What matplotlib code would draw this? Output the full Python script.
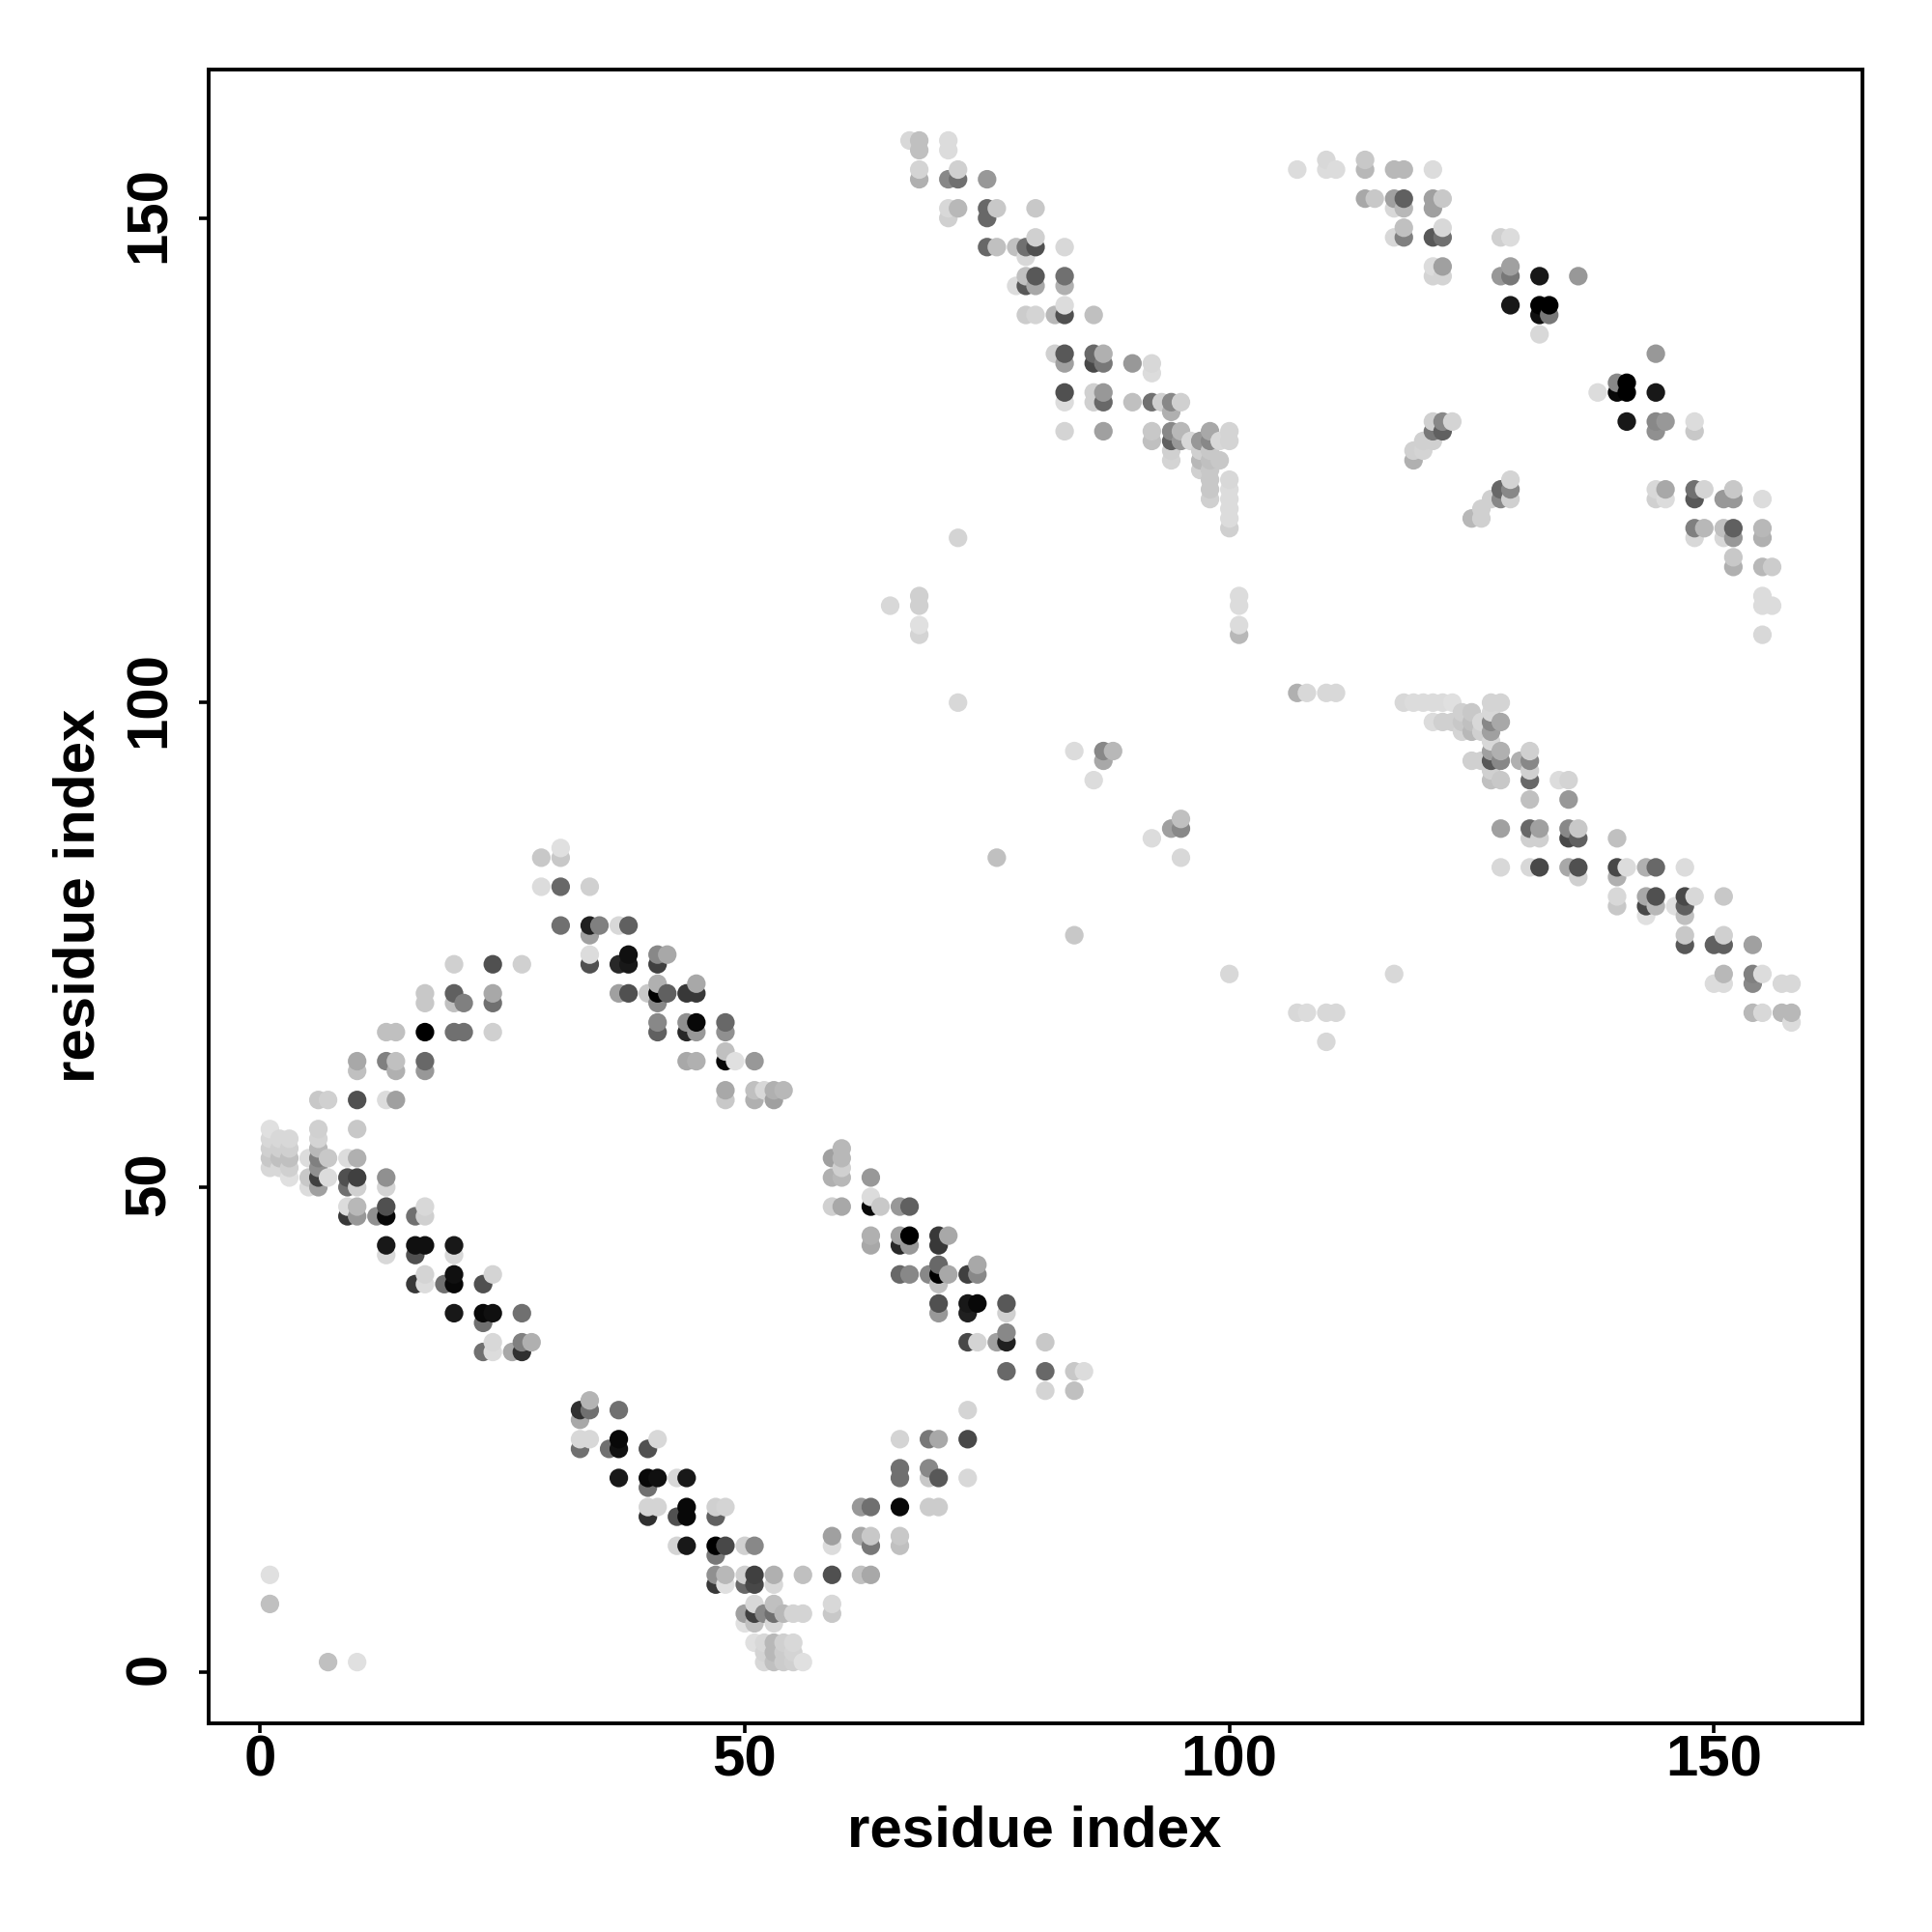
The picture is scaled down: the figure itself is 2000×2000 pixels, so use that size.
import matplotlib
matplotlib.use('Agg')
from matplotlib import pyplot as plt
from matplotlib.transforms import ScaledTranslation

# (residue i, residue j, grey level 0-255)
corner_points = [(1, 10, 0xe0), (1, 7, 0xc0), (7, 1, 0xc0), (10, 1, 0xe0)]

arm_low_left = [
    (1, 56, 0xe0), (1, 55, 0xd8), (1, 54, 0xd0), (1, 53, 0xc8), (1, 52, 0xd8),
    (2, 55, 0xd8), (2, 54, 0xd0), (2, 53, 0xc0), (2, 52, 0xd8),
    (3, 55, 0xd8), (3, 54, 0xd0), (3, 53, 0xc0), (3, 52, 0xd0), (3, 51, 0xe0),
    (5, 53, 0xdc), (5, 51, 0xc8), (5, 50, 0xdc),
    (6, 56, 0xd0), (6, 55, 0xd4), (6, 54, 0xb8), (6, 53, 0x80), (6, 52, 0x90), (6, 51, 0x40), (6, 50, 0xa0),
    (7, 53, 0xc8), (7, 51, 0xdc),
    (9, 53, 0xdc), (9, 51, 0x50), (9, 50, 0x70), (9, 48, 0xdc), (9, 47, 0x38),
    (10, 56, 0xc8), (10, 53, 0xb0), (10, 51, 0x40), (10, 50, 0xd0), (10, 48, 0xb8), (10, 47, 0x98),
    (12, 47, 0x90),
    (13, 51, 0x90), (13, 50, 0xd4), (13, 48, 0x50), (13, 47, 0x08), (13, 44, 0x18), (13, 43, 0xd8),
    (16, 47, 0x70), (16, 44, 0x10), (16, 43, 0x50), (16, 40, 0x38),
    (17, 48, 0xd8), (17, 47, 0xd0), (17, 44, 0x10), (17, 41, 0xd4), (17, 40, 0xdc),
    (19, 40, 0x70),
    (20, 44, 0x18), (20, 43, 0xd8), (20, 41, 0x10), (20, 40, 0x08), (20, 37, 0x18),
    (23, 40, 0x50), (23, 37, 0x08), (23, 36, 0x70), (23, 33, 0x70),
    (24, 41, 0xd4), (24, 37, 0x10), (24, 34, 0xd8), (24, 33, 0xdc),
    (26, 33, 0xa8),
    (27, 37, 0x70), (27, 34, 0x80), (27, 33, 0x30),
    (28, 34, 0xb0),
]

arm_low_mid = [
    (33, 27, 0x30), (33, 26, 0xa8), (33, 24, 0xd8), (33, 23, 0x70),
    (34, 28, 0xb4), (34, 27, 0x70), (34, 24, 0xd8),
    (36, 23, 0x70),
    (37, 27, 0x70), (37, 24, 0x08), (37, 23, 0x10), (37, 20, 0x18),
    (40, 23, 0x50), (40, 20, 0x08), (40, 19, 0x70), (40, 17, 0xd4), (40, 16, 0x30),
    (41, 24, 0xd8), (41, 20, 0x10), (41, 17, 0xd4),
    (43, 20, 0xd8), (43, 16, 0x50), (43, 13, 0xd4),
    (44, 20, 0x18), (44, 17, 0x08), (44, 16, 0x08), (44, 13, 0x18),
    (47, 17, 0xd0), (47, 16, 0x60), (47, 13, 0x00), (47, 12, 0x78), (47, 10, 0x90), (47, 9, 0x38),
    (48, 17, 0xd4), (48, 13, 0x48), (48, 10, 0xb8), (48, 9, 0xe0),
    (50, 13, 0xd0), (50, 10, 0xd0), (50, 9, 0x68), (50, 6, 0xa0), (50, 5, 0xe0),
    (51, 13, 0x88), (51, 10, 0x40), (51, 9, 0x48), (51, 7, 0xd8), (51, 6, 0x40), (51, 5, 0xc0), (51, 3, 0xe0),
    (52, 6, 0x88), (52, 3, 0xd8), (52, 2, 0xd4), (52, 1, 0xd8),
    (53, 10, 0xb0), (53, 9, 0xd8), (53, 7, 0xc0), (53, 6, 0x70), (53, 5, 0xd8), (53, 3, 0xb8), (53, 2, 0xb8), (53, 1, 0xc0),
    (54, 6, 0xb8), (54, 3, 0xd0), (54, 2, 0xcc), (54, 1, 0xcc),
    (55, 6, 0xd4), (55, 3, 0xd8), (55, 2, 0xd4), (55, 1, 0xd0),
    (56, 10, 0xc0), (56, 6, 0xd4), (56, 1, 0xe0),
]

arm_low_right = [
    (59, 14, 0xa0), (59, 13, 0xdc), (59, 10, 0x50), (59, 7, 0xd8), (59, 6, 0xc8),
    (62, 17, 0x98), (62, 14, 0xa8), (62, 10, 0xc0),
    (63, 17, 0x70), (63, 14, 0xc8), (63, 13, 0x78), (63, 10, 0xa8),
    (66, 24, 0xd4), (66, 21, 0x70), (66, 20, 0x70), (66, 17, 0x08), (66, 14, 0xc8), (66, 13, 0xc0),
    (69, 24, 0x78), (69, 21, 0x88), (69, 20, 0xc8), (69, 17, 0xcc),
    (70, 24, 0xa8), (70, 20, 0x58), (70, 17, 0xcc),
    (73, 27, 0xd4), (73, 24, 0x48), (73, 20, 0xd8),
]

arm_up_left = [
    (6, 59, 0xc8), (7, 59, 0xd0), (10, 63, 0xa8), (10, 62, 0xc0), (10, 59, 0x50),
    (13, 66, 0xc0), (13, 63, 0x80), (13, 59, 0xdc),
    (14, 66, 0xc0), (14, 63, 0xc0), (14, 62, 0xb0), (14, 59, 0xa0),
    (17, 70, 0xc8), (17, 69, 0xc8), (17, 66, 0x00), (17, 63, 0x68), (17, 62, 0x98),
    (20, 73, 0xd0), (20, 70, 0x60), (20, 69, 0xc0), (20, 66, 0x70),
    (21, 69, 0x80), (21, 66, 0x70),
    (24, 73, 0x50), (24, 70, 0xa8), (24, 69, 0x70), (24, 66, 0xd0),
    (27, 73, 0xd0),
]

arm_up_mid = [
    (29, 84, 0xc8), (29, 81, 0xdc), (31, 85, 0xe0), (31, 84, 0xc8), (31, 81, 0x68), (31, 77, 0x70),
    (34, 81, 0xd0), (34, 77, 0x20), (34, 76, 0xa0), (34, 74, 0xdc), (34, 73, 0x50),
    (35, 77, 0x80), (37, 77, 0xd8), (37, 73, 0x28), (37, 70, 0xa0),
    (38, 77, 0x60), (38, 74, 0x10), (38, 73, 0x18), (38, 70, 0x50),
    (40, 70, 0xc8),
    (41, 74, 0x88), (41, 73, 0x40), (41, 71, 0xb0), (41, 70, 0x00), (41, 69, 0x88), (41, 67, 0x88), (41, 66, 0x60),
    (42, 74, 0xa8), (42, 70, 0x60),
    (44, 70, 0x38), (44, 67, 0x90), (44, 66, 0x28), (44, 63, 0xa8),
    (45, 71, 0xa8), (45, 70, 0x38), (45, 67, 0x08), (45, 66, 0x98), (45, 63, 0xb0),
    (48, 67, 0x68), (48, 66, 0x90), (48, 64, 0xc0), (48, 63, 0x08), (48, 60, 0xa8), (48, 59, 0xc8),
    (49, 63, 0xe0),
    (51, 63, 0x98), (51, 60, 0xc0), (51, 59, 0xb0),
    (52, 60, 0xd8), (53, 60, 0xb0), (53, 59, 0xa0), (54, 60, 0xb8),
]

arm_mid_right = [
    (59, 53, 0xa0), (59, 51, 0xb0), (59, 48, 0xd0),
    (60, 54, 0xb8), (60, 53, 0xb8), (60, 52, 0xd0), (60, 51, 0xb8), (60, 48, 0xa8),
    (63, 51, 0x98), (63, 49, 0xdc), (63, 48, 0x08), (63, 45, 0xb0), (63, 44, 0xa8),
    (64, 48, 0xc8),
    (66, 48, 0x98), (66, 45, 0xa0), (66, 44, 0x28), (66, 41, 0x68),
    (67, 48, 0x60), (67, 45, 0x00), (67, 44, 0x98), (67, 41, 0x88),
    (69, 41, 0x88),
    (70, 45, 0x38), (70, 44, 0x38), (70, 42, 0x68), (70, 41, 0x00), (70, 40, 0xc0), (70, 38, 0x50), (70, 37, 0x98),
    (71, 45, 0xa8), (71, 41, 0xa8),
    (73, 41, 0x40), (73, 38, 0x18), (73, 37, 0x20), (73, 34, 0x48),
    (74, 42, 0xa8), (74, 41, 0x88), (74, 38, 0x08), (74, 34, 0xd4),
    (76, 34, 0xa0),
    (77, 38, 0x58), (77, 37, 0xd0), (77, 35, 0x88), (77, 34, 0x20), (77, 31, 0x68),
    (81, 34, 0xc8), (81, 31, 0x68), (81, 29, 0xd4),
    (84, 31, 0xc8), (84, 29, 0xc0), (85, 31, 0xdc),
]

strand_top_left = [
    (67, 158, 0xd8), (68, 158, 0xc0), (68, 157, 0xc0), (68, 155, 0xd4), (68, 154, 0xb0),
    (71, 158, 0xdc), (71, 157, 0xdc), (71, 154, 0x88), (71, 151, 0xd8), (71, 150, 0xd0),
    (72, 155, 0xd0), (72, 154, 0x70), (72, 151, 0xb8),
    (75, 154, 0x98), (75, 151, 0x68), (75, 150, 0x68), (75, 147, 0x68),
    (76, 151, 0xc8), (76, 147, 0xc0),
    (78, 147, 0xc0), (78, 143, 0xdc),
    (79, 147, 0x70), (79, 146, 0xd8), (79, 144, 0xc0), (79, 143, 0x58), (79, 140, 0xcc),
    (80, 151, 0xc8), (80, 148, 0xd0), (80, 147, 0x50), (80, 144, 0x58), (80, 143, 0xa8), (80, 140, 0xd4),
    (82, 140, 0xb8), (82, 136, 0xd0),
    (83, 147, 0xd8), (83, 144, 0x70), (83, 143, 0xb0), (83, 141, 0xdc), (83, 140, 0x50),
    (83, 136, 0x58), (83, 135, 0xa0), (83, 132, 0x50), (83, 131, 0xdc), (83, 128, 0xd4),
    (86, 140, 0xc0), (86, 136, 0x68), (86, 135, 0x48), (86, 132, 0xd0), (86, 131, 0xd0),
    (87, 136, 0xb0), (87, 135, 0x78), (87, 132, 0x98), (87, 131, 0x68), (87, 128, 0xa0),
    (90, 135, 0x98), (90, 131, 0xc0),
    (92, 135, 0xd8), (92, 134, 0xdc), (92, 131, 0x70), (92, 128, 0xc8), (92, 127, 0xc0),
    (93, 131, 0xd0),
    (94, 131, 0x88), (94, 130, 0xb0), (94, 128, 0x88), (94, 127, 0x60), (94, 126, 0xd0), (94, 125, 0xd4),
    (95, 131, 0xd0), (95, 128, 0xb8), (95, 127, 0x98),
    (96, 127, 0xd8),
    (97, 127, 0x98), (97, 126, 0xd0), (97, 125, 0xb8), (97, 124, 0xd0),
    (98, 128, 0xa8), (98, 127, 0x88), (98, 126, 0xc8), (98, 125, 0xc0), (98, 124, 0xc8),
    (98, 123, 0xc8), (98, 122, 0xc8), (98, 121, 0xd0),
    (99, 127, 0xd8), (99, 125, 0xc8),
    (100, 128, 0xd4), (100, 127, 0xd4), (100, 123, 0xd8), (100, 122, 0xdc), (100, 121, 0xdc),
    (100, 120, 0xdc), (100, 119, 0xdc), (100, 118, 0xd0),
]

strand_top_right = [
    (107, 155, 0xdc), (110, 156, 0xd8), (110, 155, 0xdc), (111, 155, 0xdc),
    (114, 156, 0xc8), (114, 155, 0xb8), (114, 152, 0xa8), (115, 152, 0xc8),
    (117, 155, 0xb8), (117, 152, 0xa0), (117, 151, 0xd8), (117, 148, 0xd8),
    (118, 155, 0xb8), (118, 152, 0x60), (118, 151, 0xb8), (118, 149, 0xc0), (118, 148, 0x80),
    (121, 155, 0xdc), (121, 152, 0xa0), (121, 151, 0xa0), (121, 148, 0x58), (121, 145, 0xdc), (121, 144, 0xd4),
    (122, 152, 0xc8), (122, 149, 0xd8), (122, 148, 0x70), (122, 145, 0xa0), (122, 144, 0xd4),
    (128, 148, 0xd0), (128, 144, 0x98), (129, 148, 0xdc), (129, 145, 0xa0), (129, 144, 0x78), (129, 141, 0x18),
    (132, 144, 0x18), (132, 141, 0x00), (132, 140, 0x10), (132, 138, 0xd8),
    (133, 141, 0x00), (133, 140, 0x78), (136, 144, 0x98),
    (138, 132, 0xdc), (140, 133, 0x88), (140, 132, 0x08),
    (141, 133, 0x00), (141, 132, 0x00), (141, 129, 0x18),
    (144, 136, 0x98), (144, 132, 0x18), (144, 129, 0x88), (144, 128, 0x90), (144, 122, 0xd8), (144, 121, 0xd0),
    (145, 129, 0x98), (145, 122, 0xa8), (145, 121, 0xdc),
    (148, 129, 0xdc), (148, 128, 0xc8), (148, 122, 0x70), (148, 121, 0x58), (148, 118, 0x80), (148, 117, 0xd8),
    (149, 122, 0xd4), (149, 118, 0xb8),
    (151, 121, 0x98), (151, 118, 0xc0), (151, 117, 0xd8),
    (152, 122, 0xc8), (152, 121, 0x98), (152, 118, 0x60), (152, 117, 0x98), (152, 115, 0xc8), (152, 114, 0xb0),
    (155, 121, 0xdc), (155, 118, 0xb8), (155, 117, 0xb0), (155, 114, 0xb8), (155, 111, 0xdc), (155, 110, 0xdc), (155, 107, 0xd8),
    (156, 114, 0xcc), (156, 110, 0xdc),
]

short_strands = [
    (119, 126, 0xd0), (119, 125, 0xb0), (120, 127, 0xd0), (120, 126, 0xd4),
    (121, 129, 0xd0), (121, 128, 0x78), (121, 127, 0xd0),
    (122, 129, 0x88), (122, 128, 0x60), (123, 129, 0xd4),
    (125, 119, 0xb8), (126, 120, 0xd0), (126, 119, 0xd0), (127, 121, 0xd0),
    (128, 122, 0x68), (128, 121, 0x88),
    (129, 123, 0xd4), (129, 122, 0x88), (129, 121, 0xd0),
]

strand_mid_right = [
    (107, 101, 0xb0), (108, 101, 0xd8), (110, 101, 0xd8), (111, 101, 0xd8),
    (118, 100, 0xd8), (119, 100, 0xdc), (120, 100, 0xdc), (121, 100, 0xdc), (121, 98, 0xdc),
    (122, 100, 0xdc), (122, 98, 0xd0), (123, 100, 0xe0), (123, 98, 0xd0),
    (124, 99, 0xd0), (124, 98, 0xc8), (124, 97, 0xd4),
    (125, 99, 0xc8), (125, 98, 0xc0), (125, 97, 0xb8), (125, 94, 0xd0),
    (126, 98, 0xd8), (126, 97, 0xd0), (126, 94, 0xd0),
    (127, 100, 0xd4), (127, 99, 0xd8), (127, 98, 0x88), (127, 97, 0xa0), (127, 96, 0xd8), (127, 95, 0xa0), (127, 94, 0x58), (127, 93, 0xd0), (127, 92, 0xc0),
    (128, 100, 0xd4), (128, 98, 0xa8), (128, 95, 0xb0), (128, 94, 0x88), (128, 92, 0xc8), (128, 87, 0xa0), (128, 83, 0xd8),
    (130, 94, 0xb0),
    (131, 95, 0xd0), (131, 94, 0x88), (131, 93, 0xd0), (131, 92, 0x68), (131, 90, 0xc0), (131, 87, 0x68), (131, 86, 0xd0), (131, 83, 0xd8),
    (132, 87, 0xa0), (132, 86, 0xd0), (132, 83, 0x48),
    (134, 92, 0xdc),
    (135, 92, 0xd4), (135, 90, 0x98), (135, 87, 0x88), (135, 86, 0x48), (135, 83, 0xa8),
    (136, 87, 0xc8), (136, 86, 0x60), (136, 83, 0x50), (136, 82, 0xd0),
    (140, 86, 0xc0), (140, 83, 0x48), (140, 82, 0xb0), (140, 80, 0xd8), (140, 79, 0xc8),
    (141, 83, 0xdc),
    (143, 83, 0xb0), (143, 80, 0xa8), (143, 79, 0x48), (143, 78, 0xe0),
    (144, 83, 0x68), (144, 80, 0x50), (144, 79, 0xb8),
    (146, 79, 0xe0),
    (147, 83, 0xdc), (147, 80, 0x48), (147, 79, 0x60), (147, 78, 0xc0), (147, 76, 0xc8), (147, 75, 0x58),
    (148, 80, 0xd8),
    (150, 75, 0x60), (150, 71, 0xdc),
    (151, 80, 0xc8), (151, 76, 0xd0), (151, 75, 0x60), (151, 72, 0xb8), (151, 71, 0xdc),
    (154, 75, 0xa0), (154, 72, 0x80), (154, 71, 0x88), (154, 68, 0xb8),
    (155, 72, 0xdc), (155, 68, 0xd8),
    (157, 71, 0xd8), (157, 68, 0xb8),
    (158, 71, 0xd8), (158, 68, 0xb8), (158, 67, 0xdc),
]

isolated = [
    (65, 110, 0xd8), (68, 111, 0xd0), (68, 110, 0xd0), (68, 108, 0xe0), (68, 107, 0xd4),
    (72, 117, 0xd4), (72, 100, 0xd8), (76, 84, 0xc0), (84, 95, 0xdc), (84, 76, 0xc8),
    (86, 92, 0xdc), (87, 95, 0x88), (87, 94, 0xa8), (88, 95, 0xb8),
    (92, 86, 0xdc), (94, 87, 0xa0), (95, 88, 0xc0), (95, 87, 0x88), (95, 84, 0xd8),
    (100, 72, 0xd8), (101, 111, 0xdc), (101, 110, 0xdc), (101, 108, 0xdc), (101, 107, 0xb8),
    (107, 68, 0xd8), (108, 68, 0xdc), (110, 68, 0xd8), (110, 65, 0xd8), (111, 68, 0xd8), (117, 72, 0xd8),
]

x_ticks = [0, 50, 100, 150]
y_ticks = [0, 50, 100, 150]
axis_label = 'residue index'

plt.rcParams['font.family'] = ['Liberation Sans', 'DejaVu Sans']
plt.rcParams['font.weight'] = 'bold'

points = (corner_points + arm_low_left + arm_low_mid + arm_low_right + arm_up_left + arm_up_mid
          + arm_mid_right + strand_top_left + strand_top_right + short_strands + strand_mid_right + isolated)
# the original draws column by column, upwards
points = sorted(set(points), key=lambda p: (p[0], p[1]))

fig = plt.figure(figsize=(10, 10), dpi=200)
ax = fig.add_axes([216 / 2000, 216 / 2000, 1712 / 2000, 1712 / 2000])

ax.scatter([p[0] for p in points], [p[1] for p in points],
           c=[str(p[2] / 255) for p in points], s=48, linewidths=0)

ax.set_xlim(-5.32, 165.32)
ax.set_ylim(-5.32, 165.32)
ax.set_xticks(x_ticks)
ax.set_yticks(y_ticks)
ax.tick_params(axis='x', length=3.6, width=1.3, labelsize=21.6, pad=0.6)
ax.tick_params(axis='y', length=3.6, width=1.3, labelsize=21.6, pad=8.4)
plt.setp(ax.get_yticklabels(), rotation=90, va='center')
# rotated labels sit a little low otherwise
for label in ax.get_yticklabels():
    label.set_transform(label.get_transform() + ScaledTranslation(0, 1.2 / 72, fig.dpi_scale_trans))
for spine in ax.spines.values():
    spine.set_linewidth(1.4)

fig.text(1071 / 2000, 1 - 1896 / 2000, axis_label, fontsize=21.6, fontweight='bold', ha='center', va='center')
fig.text(82 / 2000, 1 - 927 / 2000, axis_label, fontsize=21.6, fontweight='bold', ha='center', va='center', rotation=90)

fig.savefig('out.png', dpi=200)
